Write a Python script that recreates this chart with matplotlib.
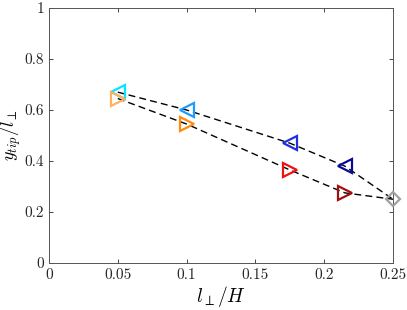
import numpy as np
import matplotlib
matplotlib.use("Agg")
import matplotlib.pyplot as plt

plt.rcParams['font.family'] = 'serif'
plt.rcParams['font.serif'] = ['cmr10']
plt.rcParams['mathtext.fontset'] = 'cm'

# l_perp / H
x_vals = [0.05, 0.1, 0.175, 0.215, 0.25]
# upper branch (left-pointing triangles)
y_upper = [0.67, 0.60, 0.47, 0.38, 0.25]
c_upper = ["#00E8FF", "#1E9BFF", "#1E2EE6", "#0A0A9A"]
# lower branch (right-pointing triangles)
y_lower = [0.645, 0.545, 0.365, 0.275, 0.25]
c_lower = ["#FFB060", "#FF8A10", "#F01010", "#A01010"]

xticks = [0, 0.05, 0.1, 0.15, 0.2, 0.25]
xtick_labels = ["0", "0.05", "0.1", "0.15", "0.2", "0.25"]
yticks = [0, 0.2, 0.4, 0.6, 0.8, 1]
ytick_labels = ["0", "0.2", "0.4", "0.6", "0.8", "1"]

fig = plt.figure(figsize=(4.07, 3.10), dpi=100)
ax = fig.add_axes([49 / 407, 47 / 310, 344 / 407, 255 / 310])

ax.plot(x_vals, y_upper, '--', color='black', lw=1.0, dashes=(5, 3), zorder=1)
ax.plot(x_vals, y_lower, '--', color='black', lw=1.0, dashes=(5, 3), zorder=1)

for i in range(4):
    ax.plot(x_vals[i], y_upper[i], marker='<', ms=10, mfc='none', mec=c_upper[i], mew=1.6, zorder=3)
    ax.plot(x_vals[i], y_lower[i], marker='>', ms=10, mfc='none', mec=c_lower[i], mew=1.6, zorder=3)
ax.plot(x_vals[-1], y_upper[-1], marker='D', ms=7, mfc='none', mec='#A0A0A0', mew=1.6, zorder=3, clip_on=False)

ax.set_xlim(0, 0.25)
ax.set_ylim(0, 1)
ax.set_xticks(xticks)
ax.set_xticklabels(xtick_labels)
ax.set_yticks(yticks)
ax.set_yticklabels(ytick_labels)
ax.tick_params(direction='in', length=3, width=0.6, colors='#262626', labelsize=11, top=True, right=True)
for sp in ax.spines.values():
    sp.set_color('#555555')
    sp.set_linewidth(0.7)

ax.set_xlabel(r'$l_\perp/H$', fontsize=14, labelpad=2)
ax.set_ylabel(r'$y_{tip}/l_\perp$', fontsize=13, labelpad=1)

fig.savefig("out.png", dpi=100)
